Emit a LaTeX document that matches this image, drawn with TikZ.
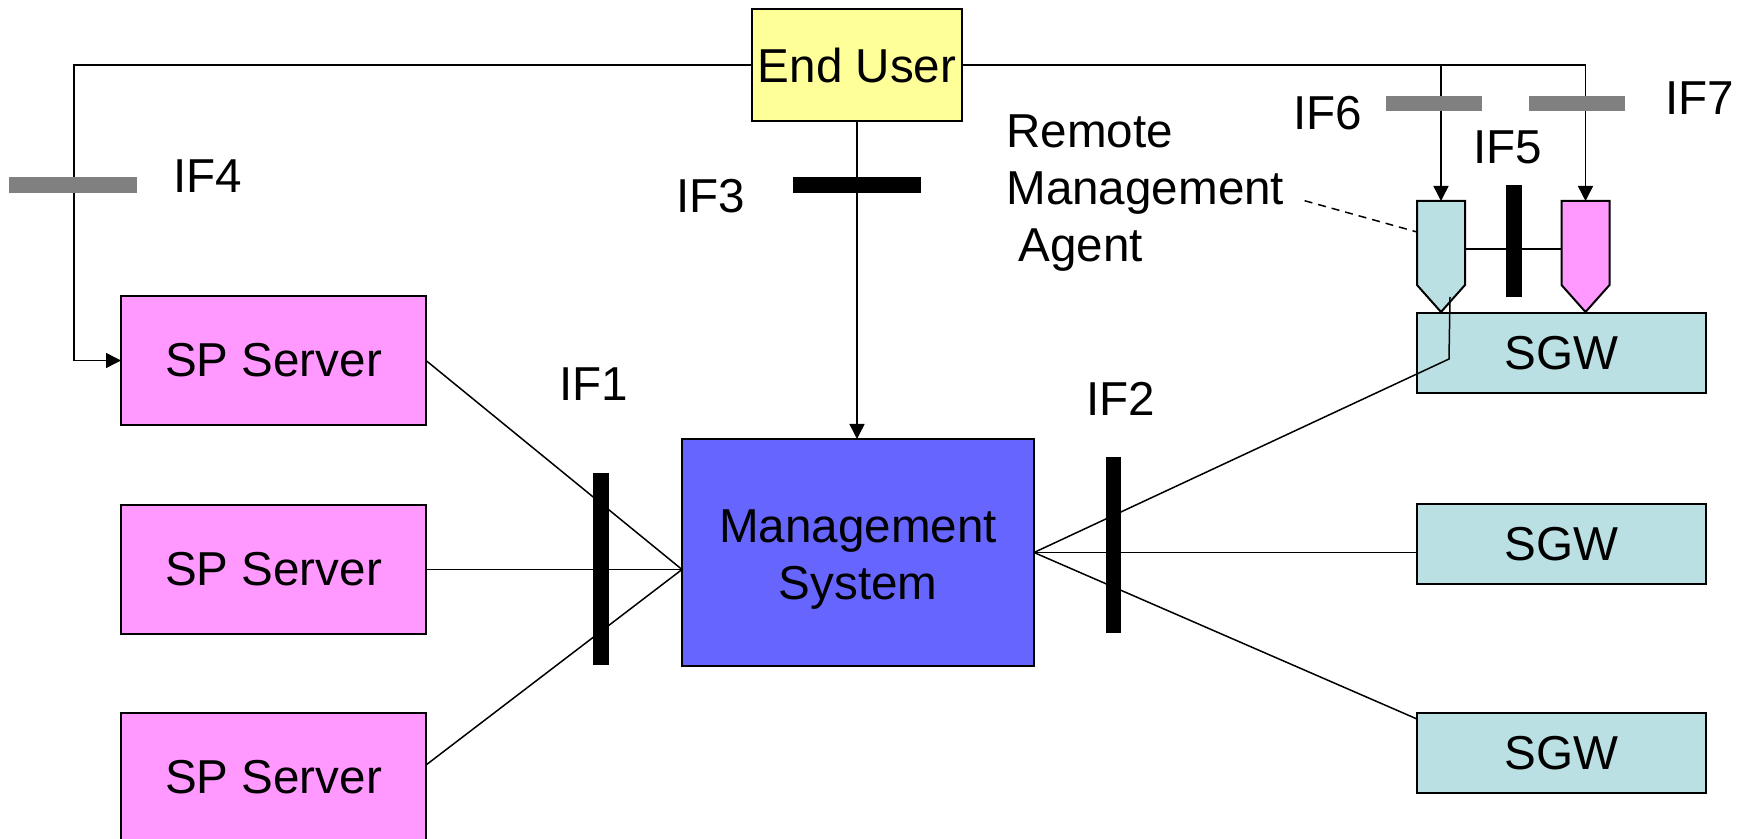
\documentclass[tikz,border=0pt]{standalone}
\usepackage{fontspec}
\setmainfont{Liberation Sans}
\usetikzlibrary{arrows.meta}
\definecolor{spink}{HTML}{FF99FF}
\definecolor{euyellow}{HTML}{FFFF99}
\definecolor{msblue}{HTML}{6666FF}
\definecolor{sgwblue}{HTML}{BBE0E3}
\definecolor{ifgray}{HTML}{808080}
\begin{document}
\begin{tikzpicture}
  [x=0.5pt,y=-0.5pt,
   every node/.style={font=\fontsize{23.8}{28.5}\selectfont},
   server/.style={rectangle,draw=black,fill=spink,line width=1pt,outer sep=0,
                  minimum width=152.5pt,minimum height=64.5pt},
   gateway/.style={rectangle,draw=black,fill=sgwblue,line width=1pt,outer sep=0,
                   minimum width=144.5pt,minimum height=40pt},
   agent/.style={rectangle,inner sep=0,outer sep=0,
                 minimum width=24pt,minimum height=55.5pt},
   agentline/.style={draw=black,line width=1pt},
   ifbar/.style={rectangle,inner sep=0,outer sep=0},
   iflabel/.style={inner sep=0,anchor=west},
   link/.style={line width=0.75pt},
   feed/.style={line width=0.75pt,-{Triangle[length=7.5pt,width=7.5pt]}}]
  \useasboundingbox (0,0) rectangle (1752,839);
  \node[rectangle,draw=black,fill=euyellow,line width=1pt,outer sep=0,inner sep=0,
        minimum width=105pt,minimum height=56pt] (eu) at (857,65) {End User};
  \node[rectangle,draw=black,fill=msblue,line width=1pt,outer sep=0,align=center,
        minimum width=176pt,minimum height=113.5pt] (ms) at (858,552.5)
    {\rule{0pt}{23pt}Management\\System};
  \node[server] (sp1) at (273.5,360.5) {SP Server};
  \node[server] (sp2) at (273.5,569.5) {SP Server};
  \node[server] (sp3) at (273.5,777.5) {SP Server};
  \node[gateway] (sgw1) at (1561.5,353) {SGW};
  \node[gateway] (sgw2) at (1561.5,544.5) {SGW};
  \node[gateway] (sgw3) at (1561.5,753) {SGW};
  \node[agent] (ag1) at (1441,256.5) {};
  \node[agent] (ag2) at (1585.5,256.5) {};
  \draw[agentline,fill=sgwblue] (ag1.north west) -- (ag1.north east) -- ++(0,84)
    -- (ag1.south) -- ++(-24,-27) -- cycle;
  \draw[agentline,fill=spink] (ag2.north west) -- (ag2.north east) -- ++(0,84)
    -- (ag2.south) -- ++(-24,-27) -- cycle;
  \node[inner sep=0,anchor=north west,align=left] (rma) at (1006,114)
    {Remote\\Management\\\hspace*{6pt}Agent};
  \node[iflabel] (if4) at (173,176) {IF4};
  \node[iflabel] (if3) at (676,196) {IF3};
  \node[iflabel] (if1) at (559,384) {IF1};
  \node[iflabel] (if2) at (1086,399) {IF2};
  \node[iflabel] (if5) at (1473,147) {IF5};
  \node[iflabel] (if6) at (1293,113) {IF6};
  \node[iflabel] (if7) at (1665,98) {IF7};
  \coordinate (msin) at (sp2.east -| ms.west);
  \coordinate (sgwtap) at (1449,359);
  \coordinate (agtap) at (1450,297);
  \draw[feed] (eu.west) -| ([xshift=-23.5pt]sp1.west) -- (sp1.west);
  \draw[feed] (eu.south) -- (eu.south |- ms.north);
  \draw[feed] (eu.east) -| (ag1.north);
  \draw[feed] (eu.east) -| (ag2.north);
  \draw[link] (sp1.east) -- (msin);
  \draw[link] (sp2.east) -- (msin);
  \draw[link] ([yshift=-26pt]sp3.north east) -- (msin);
  \draw[link] (ms.east) -- (sgwtap) -- (agtap);
  \draw[link] (ms.east) -- (ms.east -| sgw2.west);
  \draw[link] (ms.east) -- ([yshift=-3pt]sgw3.north west);
  \draw[link] ([yshift=3.75pt]ag1.east) -- ([yshift=3.75pt]ag2.west);
  \draw[link,dash pattern=on 4pt off 3pt] ([xshift=10pt,yshift=-4pt]rma.east)
    -- ([yshift=12.25pt]ag1.west);
  \node[ifbar,fill=ifgray,minimum width=64pt,minimum height=8pt] (if4bar) at (73,185) {};
  \node[ifbar,fill=black,minimum width=64pt,minimum height=8pt] (if3bar) at (857,185) {};
  \node[ifbar,fill=black,minimum width=8pt,minimum height=96pt] (if1bar) at (601,569) {};
  \node[ifbar,fill=black,minimum width=7.5pt,minimum height=88pt] (if2bar) at (1113,545) {};
  \node[ifbar,fill=black,minimum width=8pt,minimum height=56pt] (if5bar) at (1514,241) {};
  \node[ifbar,fill=ifgray,minimum width=48pt,minimum height=7.5pt] (if6bar) at (1434,104) {};
  \node[ifbar,fill=ifgray,minimum width=48pt,minimum height=7.5pt] (if7bar) at (1577,104) {};
\end{tikzpicture}
\end{document}
